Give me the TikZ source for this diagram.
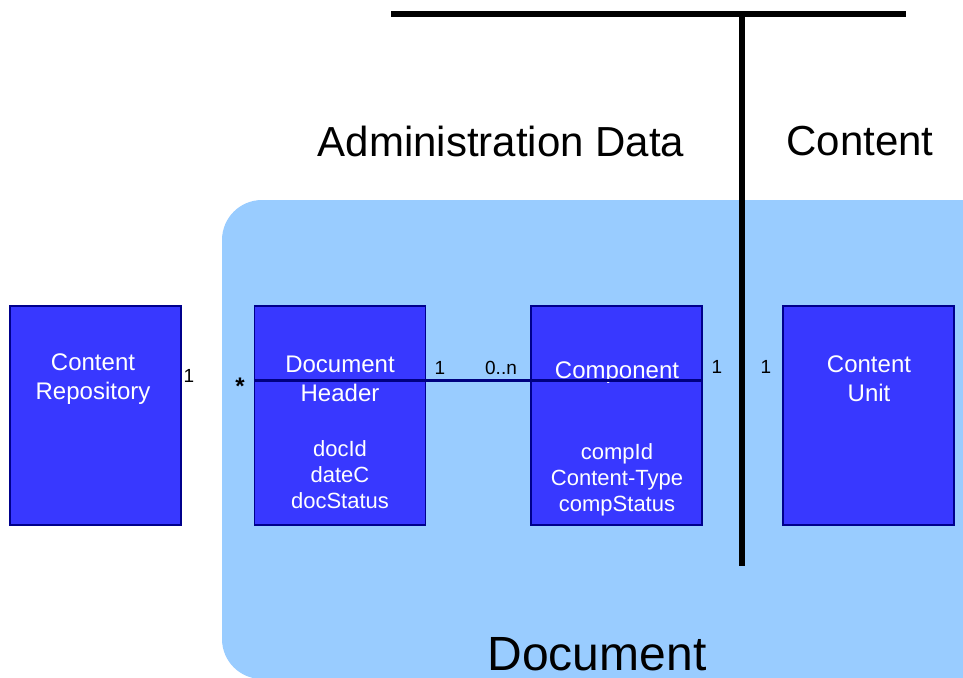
\documentclass[tikz,border=0pt]{standalone}
\usepackage{fontspec}
\setmainfont{Liberation Sans}
\usepackage{tikz}
\usepackage{xcolor}
\definecolor{docbg}{RGB}{153, 204, 255}
\definecolor{clsfill}{RGB}{56, 56, 255}
\definecolor{clsline}{RGB}{0, 0, 140}
\definecolor{assoc}{RGB}{0, 0, 128}

\begin{document}
\begin{tikzpicture}[x = 1pt, y = -1pt,
  cls/.style = {draw = clsline, line width = 1.2pt, fill = clsfill, minimum width = 171pt, minimum height = 219pt, inner sep = 0pt},
  clstxt/.style = {text = white, align = center, font = \fontsize{24}{29}\selectfont},
  attrtxt/.style = {text = white, align = center, font = \fontsize{22}{26}\selectfont},
  mult/.style = {font = \fontsize{19}{22}\selectfont},
  big/.style = {font = \fontsize{42}{50}\selectfont},
  divider/.style = {line width = 6pt}]
\clip (0,0) rectangle (963,677);
\fill[white] (0,0) rectangle (963,677);
% the document area
\fill[docbg, rounded corners = 40pt] (222,200) rectangle (1010,679);
% classes
\node[cls] (repo) at (95.5,415.5) {};
\node[cls] (header) at (340,415.5) {};
\node[cls] (comp) at (616.5,415.5) {};
\node[cls] (unit) at (868.5,415.5) {};
\node[clstxt] (repotxt) at (93,379) {Content\\Repository};
\node[clstxt] (headertxt) at (340,379) {Document\\Header};
\node[attrtxt] (headerattr) at (340,475) {docId\\dateC\\docStatus};
\node[clstxt] (comptxt) at (617,373) {Component};
\node[attrtxt] (compattr) at (617,480) {compId\\Content-Type\\compStatus};
\node[clstxt] (unittxt) at (869,379) {Content\\Unit};
% association header -- component
\coordinate (assocy) at (0,380);
\draw[assoc, line width = 3pt] (header.west |- assocy) -- (comp.east |- assocy);
% multiplicities
\node[mult] (m1) at (189,376) {1};
\node[font = \fontsize{24}{28}\selectfont\bfseries] (m2) at (240,386) {*};
\node[mult] (m3) at (440,368) {1};
\node[mult] (m4) at (501,368) {0..n};
\node[mult] (m5) at (717,367) {1};
\node[mult] (m6) at (766,367) {1};
% dividing lines
\coordinate (topl) at (391,14);
\coordinate (topr) at (906,14);
\coordinate (split) at (742,14);
\coordinate (splitend) at (742,566);
\draw[divider] (topl) -- (topr);
\draw[divider] (split) -- (splitend);
\node[big] (admin) at (501,141) {Administration Data};
\node[big] (content) at (860,141) {Content};
\node[font = \fontsize{48}{56}\selectfont, anchor = base, inner sep = 0pt] (doc) at (597,670) {Document};
\end{tikzpicture}
\end{document}
